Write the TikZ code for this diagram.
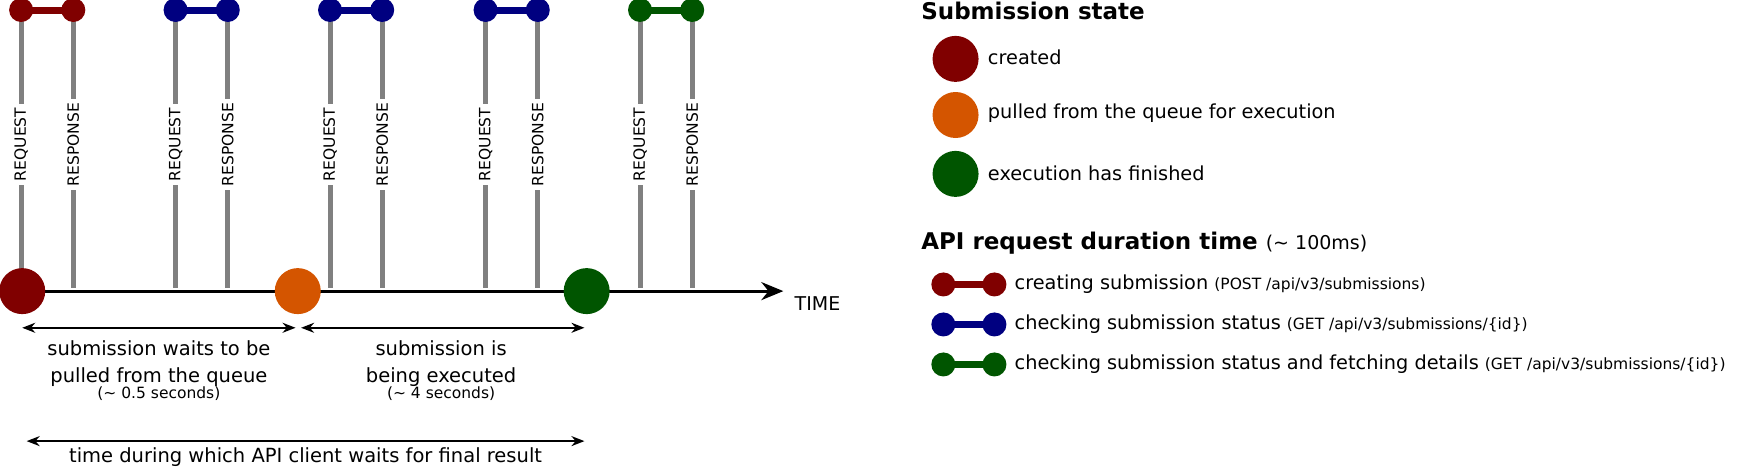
\documentclass[tikz,border=0pt]{standalone}
\usepackage{fontspec}
\setmainfont{DejaVu Sans}
\usetikzlibrary{arrows.meta}
\definecolor{cred}{HTML}{800000}
\definecolor{corange}{HTML}{D45500}
\definecolor{cgreen}{HTML}{005500}
\definecolor{cblue}{HTML}{000080}
\begin{document}
\begin{tikzpicture}[x=1.1111pt,y=-1.1111pt,
  bar/.style={draw=gray,line width=5pt},
  state/.style={circle,minimum size=46pt,inner sep=0pt},
  dot/.style={circle,minimum size=24pt,inner sep=0pt},
  lbl/.style={font=\fontsize{15.5}{18}\selectfont,rotate=90,fill=white,inner sep=4pt},
  txt/.style={font=\fontsize{19.5}{27}\selectfont,align=center},
  small/.style={font=\fontsize{15.5}{18}\selectfont},
  leg/.style={font=\fontsize{19.3}{23}\selectfont,anchor=west},
  dim/.style={line width=2pt,{Stealth[length=13pt,width=10pt]}-{Stealth[length=13pt,width=10pt]}}]
\useasboundingbox (0,0) rectangle (1566,420.3);
% bars
\foreach \a/\b/\c/\n in {19/66/cred/1,158/205/cblue/2,297/344/cblue/3,437/484/cblue/4,576/623/cgreen/5}{
  \coordinate (qa\n) at (\a,9); \coordinate (qb\n) at (\a,259);
  \coordinate (ra\n) at (\b,9); \coordinate (rb\n) at (\b,259);
  \draw[bar] (qa\n) -- (qb\n);
  \draw[bar] (ra\n) -- (rb\n);
  \node[lbl] (lq\n) at (\a,130) {REQUEST};
  \node[lbl] (lr\n) at (\b,130) {RESPONSE};
  \draw[\c,line width=7pt] (qa\n) -- (ra\n);
  \node[dot,fill=\c] (dq\n) at (qa\n) {};
  \node[dot,fill=\c] (dr\n) at (ra\n) {};
}
% timeline
\coordinate (t0) at (20,262);
\coordinate (t1) at (705,262);
\draw[line width=3pt,-{Stealth[length=22pt,width=18pt]}] (t0) -- (t1);
\node[font=\fontsize{19}{23}\selectfont,anchor=west] (time) at (712,273) {TIME};
\node[state,fill=cred] (s1) at (20,262) {};
\node[state,fill=corange] (s2) at (268,262) {};
\node[state,fill=cgreen] (s3) at (528,262) {};
% dimensions
\coordinate (d1a) at (20,295); \coordinate (d1b) at (266,295);
\coordinate (d2a) at (271,295); \coordinate (d2b) at (526,295);
\coordinate (d3a) at (24,397); \coordinate (d3b) at (526,397);
\draw[dim] (d1a) -- (d1b);
\draw[dim] (d2a) -- (d2b);
\draw[dim] (d3a) -- (d3b);
\node[txt] (w1) at (143,327) {submission waits to be\\pulled from the queue};
\node[small] (w1s) at (143,354) {(\char`\~{} 0.5 seconds)};
\node[txt] (w2) at (397,327) {submission is\\being executed};
\node[small] (w2s) at (397,354) {(\char`\~{} 4 seconds)};
\node[txt] (w3) at (275,411) {time during which API client waits for final result};
% legend
\node[font=\fontsize{23}{27}\selectfont\bfseries,anchor=west] (h1) at (826,10) {Submission state};
\node[state,fill=cred] (l1) at (860,53) {};
\node[state,fill=corange] (l2) at (860,103.5) {};
\node[state,fill=cgreen] (l3) at (860,156.5) {};
\node[leg] (lt1) at (886,52) {created};
\node[leg] (lt2) at (886,102) {pulled from the queue for execution};
\node[leg] (lt3) at (886,156) {execution has finished};
\node[anchor=west] (h2) at (826,219) {\fontsize{23}{27}\selectfont\bfseries API request duration time \fontsize{19}{23}\mdseries (\char`\~{} 100ms)};
\foreach \y/\c/\n in {256/cred/1,292/cblue/2,328/cgreen/3}{
  \coordinate (ka\n) at (849,\y); \coordinate (kb\n) at (895,\y);
  \draw[\c,line width=7pt] (ka\n) -- (kb\n);
  \node[dot,fill=\c] (kda\n) at (ka\n) {};
  \node[dot,fill=\c] (kdb\n) at (kb\n) {};
}
\node[leg] (kt1) at (910,256) {creating submission {\fontsize{15.5}{18}\selectfont(POST /api/v3/submissions)}};
\node[leg] (kt2) at (910,292) {checking submission status {\fontsize{15.5}{18}\selectfont(GET /api/v3/submissions/\{id\})}};
\node[leg] (kt3) at (910,328) {checking submission status and fetching details {\fontsize{15.5}{18}\selectfont(GET /api/v3/submissions/\{id\})}};
\end{tikzpicture}
\end{document}
